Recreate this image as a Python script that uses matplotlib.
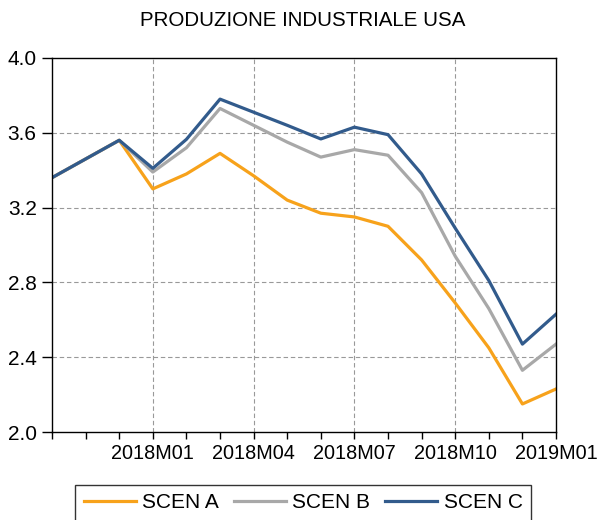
import numpy as np
import matplotlib
matplotlib.use('Agg')
import matplotlib.pyplot as plt

plt.rcParams['font.family'] = ['Liberation Sans', 'DejaVu Sans']

# mesi da 2017M10 a 2019M01
months = ['2017M10', '2017M11', '2017M12', '2018M01', '2018M02', '2018M03',
          '2018M04', '2018M05', '2018M06', '2018M07', '2018M08', '2018M09',
          '2018M10', '2018M11', '2018M12', '2019M01']
scen_a = [3.36, 3.46, 3.56, 3.30, 3.38, 3.49, 3.37, 3.24, 3.17, 3.15, 3.10, 2.92,
          2.69, 2.45, 2.15, 2.23]
scen_b = [3.36, 3.46, 3.56, 3.39, 3.52, 3.73, 3.64, 3.55, 3.47, 3.51, 3.48, 3.28,
          2.94, 2.66, 2.33, 2.47]
scen_c = [3.36, 3.46, 3.56, 3.41, 3.565, 3.78, 3.71, 3.64, 3.567, 3.63, 3.59, 3.38,
          3.09, 2.81, 2.47, 2.63]
labeled = ['2018M01', '2018M04', '2018M07', '2018M10', '2019M01']

x = np.arange(len(months))

fig = plt.figure(figsize=(5.98, 5.2), dpi=100)
ax = fig.add_axes([0.087, 0.1692, 0.8428, 0.7193])

ax.plot(x, scen_a, color='#F7A21B', lw=2.3, label='SCEN A')
ax.plot(x, scen_b, color='#A8A8A8', lw=2.3, label='SCEN B')
ax.plot(x, scen_c, color='#325B8C', lw=2.3, label='SCEN C')

ax.set_xlim(0, len(months) - 1)
ax.set_ylim(2.0, 4.0)
ax.set_yticks([2.0, 2.4, 2.8, 3.2, 3.6, 4.0])
ax.set_yticklabels(['2.0', '2.4', '2.8', '3.2', '3.6', '4.0'], fontsize=15)

ax.set_xticks(x)
ax.set_xticklabels([m if m in labeled else '' for m in months], fontsize=14.3)
ax.tick_params(axis='x', direction='out', length=5, width=1, color='black', pad=3.5)
ax.tick_params(axis='y', direction='out', length=7, width=1, color='black', pad=4)

# griglia tratteggiata
for i, m in enumerate(months):
    if m in labeled[:-1]:
        ax.axvline(x[i], color='#999999', lw=0.8, ls=(0, (4, 2.5)), zorder=0)
for v in [2.4, 2.8, 3.2, 3.6]:
    ax.axhline(v, color='#999999', lw=0.8, ls=(0, (4, 2.5)), zorder=0)

for s in ax.spines.values():
    s.set_color('black')
    s.set_linewidth(1)

fig.text(0.507, 0.9615, 'PRODUZIONE INDUSTRIALE USA', ha='center', va='center', fontsize=14.8)

leg = fig.legend(loc='upper center', bbox_to_anchor=(0.507, 0.0673), ncol=3,
                 fontsize=15, frameon=True, fancybox=False, handlelength=2.5,
                 columnspacing=0.72, handletextpad=0.3, borderaxespad=0, borderpad=0.4)
leg.get_frame().set_edgecolor('black')
leg.get_frame().set_linewidth(1)

plt.savefig('out.png', dpi=100)
